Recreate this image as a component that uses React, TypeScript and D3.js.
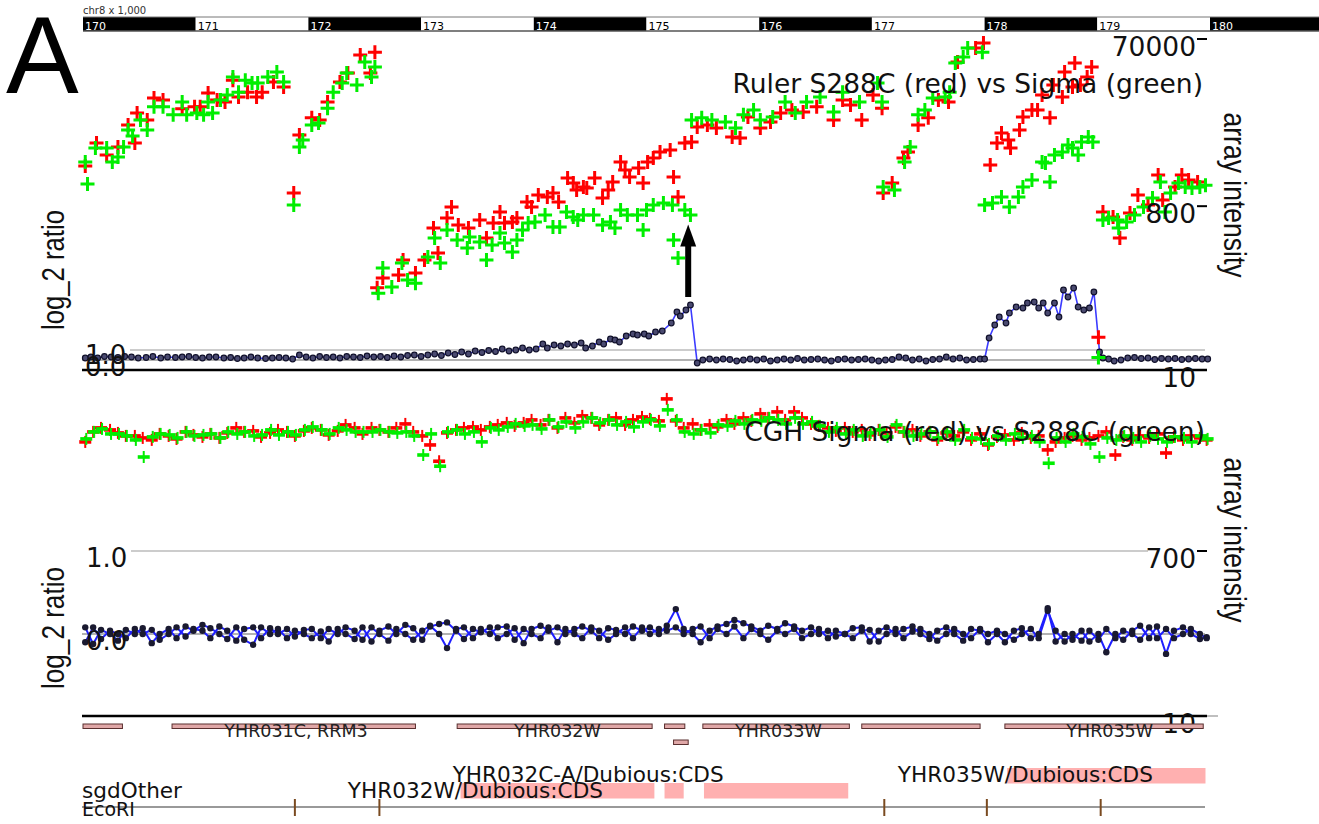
import React from "react";
import * as d3 from "d3";

const RULER_TICKS = [170, 171, 172, 173, 174, 175, 176, 177, 178, 179, 180];

const RULER_RED: [number, number][] = [
[170.02,2340],[170.12,4330],[170.21,3140],[170.31,3890],[170.40,7000],[170.46,4330],[170.48,9700],[170.57,8000],[170.63,14400],[170.71,13700],[170.88,10800],[170.99,11400],[171.04,11400],[171.11,16500],[171.19,13700],[171.26,13000],[171.33,23300],[171.38,14800],[171.46,16900],[171.54,14800],[171.59,16900],[171.69,22100],[171.78,19400],
[171.87,1140],[171.92,5360],[172.03,8500],[172.10,8000],[172.17,13000],[172.28,22100],[172.35,28100],[172.46,45600],[172.55,28100],[172.59,49000],
[172.61,90],[172.66,117],[172.80,127],[172.84,190],[172.95,134],[173.03,190],[173.11,446],[173.15,229],[173.23,582],[173.27,782],[173.33,483],[173.42,446],[173.52,552],[173.58,341],[173.64,510],[173.70,684],[173.74,510],[173.81,523],[173.85,582],[173.94,893],[173.98,782],[174.04,1080],[174.12,1020],[174.17,1140],[174.22,893],[174.30,1700],[174.35,1490],[174.38,1230],[174.44,1340],[174.47,1300],[174.54,1700],[174.61,995],[174.66,1230],[174.70,1530],[174.77,2610],[174.81,2100],[174.85,1750],[174.93,2220],[174.97,1490],[175.01,2610],[175.06,2900],[175.12,3400],[175.21,3590],[175.24,1750],[175.28,1020],[175.34,4330],[175.40,4450],
[175.45,6640],[175.54,7000],[175.62,6470],[175.76,5090],[175.83,4950],[175.90,8700],[176.01,6470],[176.10,7600],[176.19,9700],[176.29,10500],[176.39,9900],[176.51,11400],[176.66,8000],[176.74,13700],[176.81,12000],[176.91,8000],[177.01,15600],[177.09,11000],
[177.10,1140],[177.18,1490],[177.28,2900],[177.32,3400],[177.41,7000],[177.50,8500],[177.59,13700],[177.68,13000],[177.76,37800],[177.92,55000],[177.99,62800],
[178.05,2400],[178.11,4330],[178.15,5660],[178.21,4690],[178.23,3790],[178.31,6130],[178.34,8700],[178.42,10500],[178.47,10500],[178.51,15600],[178.58,8500],[178.61,20400],[178.69,14800],[178.71,28900],[178.78,19400],[178.80,36800],[178.85,20400],[178.91,25300],[178.95,33100],
[179.01,24],[179.05,684],[179.14,598],[179.20,341],[179.29,666],[179.36,1080],[179.45,825],[179.54,1840],[179.58,943],[179.69,1340],[179.75,1840],[179.81,1610],[179.89,1530]
];

const RULER_GREEN: [number, number][] = [
[170.02,2610],[170.04,1450],[170.11,3790],[170.21,3790],[170.26,2610],[170.31,2980],[170.36,3890],[170.40,6130],[170.44,5220],[170.51,8000],[170.57,6130],[170.63,11400],[170.71,11400],[170.80,9200],[170.88,13000],[170.92,9200],[171.01,9700],[171.07,9200],[171.11,13000],[171.15,9700],[171.22,13700],[171.28,15600],[171.33,25300],[171.38,16900],[171.44,23300],[171.50,21600],[171.55,21600],[171.64,25300],[171.72,28900],[171.78,22100],
[171.87,825],[171.92,3890],[171.95,4690],[172.03,7000],[172.09,7400],[172.17,11000],[172.22,16900],[172.30,21600],[172.34,28100],[172.43,20400],[172.50,37800],[172.56,25300],[172.59,33100],
[172.62,78],[172.66,153],[172.74,92],[172.83,175],[172.88,111],[172.95,102],[173.06,205],[173.12,341],[173.17,175],[173.23,423],[173.32,324],[173.41,261],[173.43,351],[173.52,307],[173.58,190],[173.63,283],[173.70,390],[173.74,299],[173.81,235],[173.85,324],[173.90,423],[173.95,510],[174.01,523],[174.10,631],[174.17,458],[174.23,458],[174.29,684],[174.35,598],[174.39,552],[174.44,631],[174.53,631],[174.61,483],[174.68,523],[174.72,446],[174.77,721],[174.83,631],[174.92,631],[174.97,423],[175.00,721],[175.06,825],[175.15,870],[175.23,825],[175.24,324],[175.28,200],[175.34,721],[175.39,631],
[175.40,8000],[175.49,8500],[175.58,8000],[175.70,7600],[175.79,6470],[175.86,9200],[175.95,10500],[176.01,8000],[176.12,8700],[176.23,13000],[176.32,9700],[176.42,13000],[176.54,14800],[176.66,9900],[176.74,16900],[176.89,13000],[177.05,21600],[177.09,13000],
[177.10,1340],[177.20,1230],[177.29,2610],[177.34,3890],[177.41,9200],[177.47,10500],[177.54,14400],[177.65,14800],[177.69,16900],[177.74,36800],[177.81,43200],[177.85,55000],[177.98,49000],
[178.00,825],[178.07,870],[178.15,1020],[178.22,782],[178.30,1020],[178.34,1340],[178.42,1610],[178.51,2610],[178.54,2540],[178.58,1530],[178.62,3140],[178.69,3400],[178.74,4100],[178.78,3790],[178.83,3140],[178.86,4450],[178.92,5090],[178.96,4450],
[179.01,14],[179.05,552],[179.10,582],[179.18,552],[179.19,446],[179.26,523],[179.33,631],[179.41,782],[179.49,995],[179.56,1530],[179.60,684],[179.65,1140],[179.72,1490],[179.78,1340],[179.84,1300],[179.91,1340],[179.96,1400]
];

const RULER_RATIO: [number, number][] = [
[170.02,0.2],[170.07,0.3],[170.13,0.2],[170.19,0.35],[170.25,0.3],[170.31,0.25],[170.37,0.35],[170.43,0.3],[170.49,0.2],[170.56,0.25],[170.62,0.35],[170.69,0.2],[170.75,0.3],[170.82,0.25],[170.88,0.3],[170.94,0.35],[171.00,0.25],[171.06,0.2],[171.12,0.3],[171.18,0.3],[171.25,0.2],[171.31,0.25],[171.37,0.15],[171.43,0.2],[171.49,0.3],[171.55,0.2],[171.62,0.15],[171.68,0.2],[171.74,0.25],[171.80,0.2],[171.86,0.1],[171.92,0.5],[171.98,0.3],[172.04,0.2],[172.10,0.35],[172.16,0.25],[172.22,0.3],[172.28,0.2],[172.34,0.35],[172.40,0.3],[172.46,0.25],[172.52,0.4],[172.58,0.3],[172.64,0.35],[172.70,0.25],[172.76,0.4],[172.82,0.3],[172.88,0.45],[172.94,0.5],[173.00,0.35],[173.06,0.5],[173.12,0.6],[173.18,0.45],[173.24,0.7],[173.30,0.55],[173.36,0.8],[173.42,0.6],[173.48,0.9],[173.54,0.75],[173.60,0.95],[173.66,0.85],[173.72,1.1],[173.78,0.9],[173.84,1.0],[173.90,1.2],[173.96,1.0],[174.02,1.1],[174.08,1.6],[174.12,1.2],[174.18,1.5],[174.24,1.4],[174.30,1.6],[174.36,1.5],[174.42,1.7],[174.46,1.2],[174.52,1.4],[174.58,1.8],[174.62,1.6],[174.68,2.1],[174.72,2.0],[174.76,1.8],[174.82,2.4],[174.88,2.6],[174.92,2.5],[174.98,2.6],[175.02,2.4],[175.08,2.8],[175.14,2.9],[175.22,3.7],[175.27,4.8],[175.30,4.4],[175.35,5.0],[175.39,5.5],
[175.45,-0.3],[175.50,0.0],[175.56,0.1],[175.62,0.0],[175.68,0.1],[175.74,0.05],[175.80,-0.1],[175.86,0.0],[175.92,0.1],[175.98,0.0],[176.04,0.1],[176.10,-0.1],[176.16,0.0],[176.22,0.1],[176.28,0.0],[176.34,0.15],[176.40,0.0],[176.46,0.05],[176.52,0.1],[176.58,0.0],[176.64,-0.1],[176.70,0.05],[176.76,0.1],[176.82,0.0],[176.88,0.05],[176.94,0.1],[177.00,0.0],[177.06,-0.1],[177.12,0.0],[177.18,0.05],[177.24,0.3],[177.30,0.2],[177.36,0.0],[177.42,0.1],[177.48,-0.1],[177.54,0.05],[177.60,0.1],[177.66,0.3],[177.72,0.1],[177.78,0.2],[177.84,0.0],[177.90,0.05],[177.96,0.1],[178.00,0.1],
[178.04,2.2],[178.09,3.5],[178.13,4.3],[178.19,3.7],[178.22,4.7],[178.28,5.3],[178.34,5.2],[178.38,5.7],[178.44,5.8],[178.48,5.2],[178.52,5.7],[178.56,4.7],[178.62,5.7],[178.66,4.3],[178.70,7.0],[178.74,6.3],[178.79,7.2],[178.83,5.3],[178.88,5.0],[178.93,5.2],[178.97,6.8],
[179.02,0.8],[179.05,0.2],[179.10,0.1],[179.15,-0.1],[179.21,0.0],[179.27,0.2],[179.33,0.25],[179.39,0.15],[179.45,0.2],[179.51,0.05],[179.57,0.15],[179.63,0.1],[179.69,0.15],[179.75,0.05],[179.81,0.1],[179.87,0.15],[179.93,0.1],[179.98,0.1]
];

const CGH_POS = [
170.02,170.09,170.16,170.24,170.31,170.38,170.46,170.53,170.61,170.68,
170.76,170.83,170.91,170.98,171.06,171.13,171.21,171.28,171.36,171.43,
171.51,171.58,171.66,171.73,171.81,171.88,171.96,172.03,172.11,172.18,
172.26,172.33,172.41,172.48,172.56,172.63,172.71,172.78,172.86,172.93,
173.01,173.08,173.16,173.23,173.31,173.38,173.46,173.53,173.61,173.68,
173.76,173.83,173.91,173.98,174.06,174.13,174.21,174.28,174.36,174.43,
174.51,174.58,174.66,174.73,174.81,174.88,174.96,175.03,175.11,175.18,
175.26,175.33,175.41,175.48,175.56,175.63,175.71,175.78,175.86,175.93,
176.01,176.08,176.16,176.23,176.31,176.38,176.46,176.53,176.61,176.68,
176.76,176.83,176.91,176.98,177.06,177.13,177.21,177.28,177.36,177.43,
177.51,177.58,177.66,177.73,177.81,177.88,177.96,178.03,178.11,178.18,
178.26,178.33,178.41,178.48,178.56,178.63,178.71,178.78,178.86,178.93,
179.01,179.08,179.16,179.23,179.31,179.38,179.46,179.53,179.61,179.68,
179.76,179.83,179.91,179.97
];

const CGH_RED = [
11610,15020,16660,15820,14640,13550,13550,12870,12230,14270,
13550,12540,15020,13910,13210,14270,12870,14640,16660,15020,
15420,13210,14640,15820,15020,13550,15420,16660,15820,13910,
15420,17990,16660,14270,16660,15820,15020,16660,18460,15020,
13550,10740,7060,14640,15820,16660,17090,15820,17090,17990,
18950,17540,18950,20470,17990,20470,16660,21550,18950,22700,
21550,17990,20470,21550,17990,20470,22100,21000,19950,35150,
19950,16660,18460,15820,17990,17090,20470,18460,21550,19950,
23900,21550,25150,20470,25150,21550,18460,17540,16660,15420,
16660,15020,15820,13910,15820,14640,17090,15020,15820,13550,
15020,12230,14640,13550,15020,12230,14270,10740,13210,13910,
12230,14640,12870,13550,9450,11610,12870,13550,12230,12870,
13550,15020,8290,13210,12230,13550,12870,14270,8730,13210,
12230,13550,12870,12230
];

const CGH_GREEN = [
13210,15820,17090,15020,15020,14270,12870,8290,13910,15020,
14640,13550,15820,14270,14640,15020,13550,15820,15020,15820,
14270,14640,16660,14640,15820,14640,16660,17990,16660,15020,
17540,16660,15820,15820,15820,16660,15820,15420,15820,14270,
8730,15020,6540,15820,16660,15020,15820,12230,17540,16660,
17990,19440,18460,18950,17090,21550,17990,20470,17540,20470,
22700,19950,21550,18950,20470,17990,20470,21550,18460,27900,
21550,15820,15020,16660,15420,18950,18460,21000,19440,21550,
21000,22700,21550,19440,22700,19440,20470,18460,15820,17540,
15020,16660,14270,15420,16660,13910,18950,15820,14270,15020,
15820,13550,15820,12870,16660,13550,13210,11610,14270,12870,
15020,13550,14270,12230,7060,13550,12230,15020,13910,11610,
8290,13550,12870,14270,13550,12230,14270,13210,12230,13910,
13550,12230,14270,13210
];

const CGH_RATIO_A = [
0.08,-0.12,0.05,0.0,-0.08,0.05,0.0,0.07,-0.11,0.0,
0.06,-0.05,0.09,0.04,0.11,0.07,0.0,-0.06,0.08,-0.07,
-0.13,0.08,0.0,0.06,-0.05,0.04,0.0,-0.05,0.03,-0.09,
0.06,0.0,-0.06,0.08,-0.09,0.04,0.09,0.0,0.11,0.07,
-0.07,0.09,0.12,0.14,0.04,-0.06,0.06,0.02,0.08,-0.05,
0.0,0.07,-0.11,0.06,0.1,0.04,0.08,0.0,0.06,0.09,
0.04,-0.05,0.07,0.05,0.0,0.09,0.04,0.08,0.0,0.1,
0.30,0.06,0.0,-0.10,0.04,0.09,0.12,0.17,0.13,0.09,
0.04,0.1,0.06,0.13,0.09,0.04,0.08,0.0,0.04,-0.03,
0.0,0.07,0.08,-0.09,0.04,0.08,0.0,0.06,0.09,0.0,
-0.06,0.04,0.08,0.0,-0.08,0.06,0.04,-0.1,0.0,-0.10,
0.04,0.07,-0.05,0.0,0.31,-0.09,0.0,-0.07,0.04,-0.09,
0.0,-0.22,0.0,-0.07,0.04,0.1,-0.05,0.09,-0.24,0.04,
0.08,0.0,-0.06,-0.04
];

const CGH_RATIO_B = [
-0.10,0.08,-0.06,0.04,0.0,-0.05,0.06,0.0,0.05,-0.07,
0.0,0.08,-0.03,0.06,0.04,-0.05,0.09,0.04,-0.08,0.06,
0.08,-0.05,0.07,0.0,0.06,-0.03,0.05,0.06,-0.05,0.06,
0.0,0.08,0.04,-0.07,0.08,0.0,-0.08,0.06,0.0,-0.07,
0.04,0.10,0.0,-0.17,0.06,0.08,-0.05,0.06,0.0,0.08,
0.09,-0.07,0.06,0.0,-0.05,0.08,-0.1,0.06,0.0,-0.05,
0.08,0.04,-0.07,0.0,0.08,-0.05,0.08,0.0,0.06,0.04,
0.08,0.0,0.06,0.09,-0.05,0.06,0.0,0.09,-0.05,0.06,
0.0,-0.07,0.04,0.0,0.06,-0.05,0.0,0.06,-0.05,0.04,
0.0,-0.05,0.04,0.05,-0.09,0.0,0.06,-0.05,0.03,0.06,
0.0,-0.08,0.0,0.06,0.0,-0.05,0.06,0.0,0.04,0.0,
-0.07,0.0,0.06,-0.05,0.28,0.04,-0.09,0.0,-0.08,0.04,
-0.07,0.06,-0.05,0.04,0.0,-0.07,0.08,-0.05,0.06,-0.05,
0.0,0.06,0.0,-0.05
];

const GENE_STARTS = [170.0, 170.79, 173.32, 175.16, 175.24, 175.50, 176.91, 178.18];
const GENE_ENDS = [170.35, 172.95, 175.05, 175.34, 175.37, 176.80, 177.96, 179.94];
const GENE_ROWS = [0, 0, 0, 0, 1, 0, 0, 0];
const GENE_LABELS = ["YHR031C, RRM3", "YHR032W", "YHR033W", "YHR035W"];
const GENE_LABEL_POS = [171.89, 174.21, 176.17, 179.11];

const SGD_STARTS = [173.35, 175.16, 175.51, 178.20];
const SGD_ENDS = [175.07, 175.33, 176.79, 179.96];
const SGD_ROWS = [1, 1, 1, 0];
const SGD_LABELS = ["YHR032W/Dubious:CDS", "YHR032C-A/Dubious:CDS", "YHR035W/Dubious:CDS"];
const SGD_LABEL_POS = [172.35, 173.28, 177.23];
const SGD_LABEL_ROWS = [1, 0, 0];

const ECORI_SITES = [171.88, 172.63, 177.11, 178.02, 179.03];

const ARROW_KB = 175.37;
const ARROW_FROM_RATIO = 5.9;
const ARROW_TO_INTENSITY = 490;

const FONT = "'DejaVu Sans', sans-serif";
const NARROW = "'Liberation Sans Narrow', 'Liberation Sans', sans-serif";

export default function App() {
  const W = 1319, H = 824;
  const x = d3.scaleLinear().domain([170, 180]).range([83, 1210]);
  const y1 = d3.scaleLog().domain([10, 70000]).range([370, 39]);
  const r1 = d3.scaleLinear().domain([0, 1]).range([360, 350]);
  const y2 = d3.scaleLog().domain([10, 700]).range([716, 551]);
  const r2 = d3.scaleLinear().domain([0, 1]).range([634, 551]);

  const plus = (cx: number, cy: number) => `M${cx - 7},${cy}H${cx + 7}M${cx},${cy - 7}V${cy + 7}`;

  const line1 = d3.line<[number, number]>().x(d => x(d[0])).y(d => r1(d[1]));
  const n = Math.min(CGH_POS.length, CGH_RATIO_A.length, CGH_RATIO_B.length);
  const aPts: [number, number][] = d3.range(n).map(i => [CGH_POS[i], CGH_RATIO_A[i]]);
  const bPts: [number, number][] = d3.range(n).map(i => [CGH_POS[i], CGH_RATIO_B[i]]);
  const line2 = d3.line<[number, number]>().x(d => x(d[0])).y(d => r2(d[1]));
  const nc = Math.min(CGH_POS.length, CGH_RED.length, CGH_GREEN.length);

  const cghMark = (cx: number, cy: number, color: string, key: string) => (
    <g key={key} fill={color}>
      <rect x={cx - 6} y={cy - 1.8} width={12} height={3.6} />
      <rect x={cx - 1} y={cy - 6} width={2} height={12} />
    </g>
  );

  const ax = x(ARROW_KB);
  const aFrom = r1(ARROW_FROM_RATIO) - 4;
  const aTo = y1(ARROW_TO_INTENSITY);

  return (
    <svg width={W} height={H} style={{ position: "absolute", left: 0, top: 0, background: "#fff" }} fontFamily={FONT}>
      <rect x={0} y={0} width={W} height={H} fill="#fff" />
      <text x={6} y={93} fontFamily="'Liberation Sans', Arial, sans-serif" fontSize={109} fill="#000">A</text>

      {/* Ruler */}
      <text x={83} y={14} fontSize={10} fill="#333">chr8 x 1,000</text>
      {RULER_TICKS.map((k, i) => {
        const x0 = x(k);
        const x1 = i === RULER_TICKS.length - 1 ? W : x(k + 1);
        const dark = i % 2 === 0;
        return (
          <g key={"rt" + k}>
            <rect x={x0} y={17} width={x1 - x0} height={14} fill={dark ? "#000" : "#fff"} />
            <text x={x0 + 2} y={29.5} fontSize={11} fill={dark ? "#fff" : "#000"}>{k}</text>
          </g>
        );
      })}
      <line x1={83} x2={W} y1={17} y2={17} stroke="#777" strokeWidth={1} />
      <line x1={83} x2={W} y1={31} y2={31} stroke="#555" strokeWidth={1.5} />

      {/* Panel 1 reference lines */}
      <line x1={130} x2={1205} y1={r1(1)} y2={r1(1)} stroke="#bbb" strokeWidth={1.5} />
      <line x1={82} x2={1207} y1={r1(0)} y2={r1(0)} stroke="#666" strokeWidth={1.2} />
      <line x1={82} x2={1207} y1={370} y2={370} stroke="#000" strokeWidth={2.5} />

      {/* Panel 1 ratio */}
      <path d={line1(RULER_RATIO) || ""} fill="none" stroke="#3b3bff" strokeWidth={1.6} />
      {RULER_RATIO.map((d, i) => (
        <circle key={"rr" + i} cx={x(d[0])} cy={r1(d[1])} r={2.8} fill="#4a4a70" stroke="#10102a" strokeWidth={1.2} />
      ))}

      {/* Panel 1 intensities */}
      <g stroke="#ff0000" strokeWidth={3}>
        {RULER_RED.map((d, i) => <path key={"r" + i} d={plus(x(d[0]), y1(d[1]))} />)}
      </g>
      <g stroke="#00ee00" strokeWidth={3}>
        {RULER_GREEN.map((d, i) => <path key={"g" + i} d={plus(x(d[0]), y1(d[1]))} />)}
      </g>

      {/* Arrow */}
      <line x1={ax} x2={ax} y1={aFrom} y2={aTo + 20} stroke="#000" strokeWidth={6} />
      <path d={`M${ax - 8},${aTo + 22}L${ax},${aTo}L${ax + 8},${aTo + 22}Z`} fill="#000" />

      {/* Panel 1 axis labels */}
      <text x={1203} y={93} textAnchor="end" fontSize={26.5} fill="#111">Ruler S288C (red) vs Sigma (green)</text>
      {[70000, 800, 10].map(v => (
        <g key={"a1" + v}>
          <line x1={1197} x2={1207} y1={y1(v)} y2={y1(v)} stroke="#000" strokeWidth={2} />
          <text x={1196} y={y1(v) + 17} textAnchor="end" fontSize={26.5} fill="#111">{v}</text>
        </g>
      ))}
      <text x={85} y={364} fontSize={26} fill="#111">1.0</text>
      <text x={85} y={376} fontSize={26} fill="#111">0.0</text>
      <text transform="translate(64,270) rotate(-90)" textAnchor="middle" fontFamily={NARROW} fontSize={31} textLength={120} lengthAdjust="spacingAndGlyphs" fill="#111">log_2 ratio</text>
      <text transform="translate(1224,195) rotate(90)" textAnchor="middle" fontFamily={NARROW} fontSize={31} textLength={165} lengthAdjust="spacingAndGlyphs" fill="#111">array intensity</text>

      {/* Panel 2 reference lines */}
      <line x1={131} x2={1148} y1={r2(1)} y2={r2(1)} stroke="#bbb" strokeWidth={1.5} />
      <line x1={82} x2={1205} y1={r2(0)} y2={r2(0)} stroke="#666" strokeWidth={1.2} />
      <line x1={1207} x2={1218} y1={716} y2={716} stroke="#aaa" strokeWidth={1.5} />
      <line x1={82} x2={1207} y1={716} y2={716} stroke="#000" strokeWidth={2.5} />

      {/* Panel 2 intensities */}
      <g>{d3.range(nc).map(i => cghMark(x(CGH_POS[i]), y2(CGH_RED[i]), "#ff0000", "cr" + i))}</g>
      <g>{d3.range(nc).map(i => cghMark(x(CGH_POS[i]) + 1, y2(CGH_GREEN[i]) + 2, "#00ee00", "cg" + i))}</g>

      {/* Panel 2 ratios */}
      <path d={line2(aPts) || ""} fill="none" stroke="#1f1fff" strokeWidth={2} />
      <path d={line2(bPts) || ""} fill="none" stroke="#1f1fff" strokeWidth={2} />
      {aPts.map((d, i) => <circle key={"ca" + i} cx={x(d[0])} cy={r2(d[1])} r={3.2} fill="#1a1a30" />)}
      {bPts.map((d, i) => <circle key={"cb" + i} cx={x(d[0])} cy={r2(d[1])} r={3.2} fill="#1a1a30" />)}

      {/* Panel 2 labels */}
      <text x={1205} y={441} textAnchor="end" fontSize={26.5} fill="#111">CGH Sigma (red) vs S288C (green)</text>
      {[700, 10].map(v => (
        <g key={"a2" + v}>
          <line x1={1197} x2={1207} y1={y2(v)} y2={y2(v)} stroke="#000" strokeWidth={2} />
          <text x={1196} y={y2(v) + 17} textAnchor="end" fontSize={26.5} fill="#111">{v}</text>
        </g>
      ))}
      <text x={86} y={567} fontSize={26} fill="#111">1.0</text>
      <text x={86} y={650} fontSize={26} fill="#111">0.0</text>
      <text transform="translate(64,628) rotate(-90)" textAnchor="middle" fontFamily={NARROW} fontSize={31} textLength={122} lengthAdjust="spacingAndGlyphs" fill="#111">log_2 ratio</text>
      <text transform="translate(1224,540) rotate(90)" textAnchor="middle" fontFamily={NARROW} fontSize={31} textLength={165} lengthAdjust="spacingAndGlyphs" fill="#111">array intensity</text>

      {/* Genes */}
      {GENE_STARTS.map((s, i) => {
        const yy = GENE_ROWS[i] === 0 ? 724 : 740;
        return (
          <rect key={"gn" + i} x={x(s)} y={yy} width={x(GENE_ENDS[i]) - x(s)} height={4.5} fill="#e0a8a8" stroke="#5a3030" strokeWidth={1} />
        );
      })}
      {GENE_LABELS.map((t, i) => (
        <text key={"gl" + i} x={x(GENE_LABEL_POS[i])} y={737} textAnchor="middle" fontSize={17.5} fill="#222">{t}</text>
      ))}

      {/* sgdOther */}
      {SGD_STARTS.map((s, i) => {
        const yy = SGD_ROWS[i] === 0 ? 768 : 783;
        return <rect key={"sg" + i} x={x(s)} y={yy} width={x(SGD_ENDS[i]) - x(s)} height={15.5} fill="#ffb0b0" />;
      })}
      {SGD_LABELS.map((t, i) => (
        <text key={"sl" + i} x={x(SGD_LABEL_POS[i])} y={SGD_LABEL_ROWS[i] === 0 ? 782 : 798} fontSize={21.6} fill="#111">{t}</text>
      ))}
      <text x={82} y={798} fontSize={21.6} fill="#111">sgdOther</text>

      {/* EcoRI */}
      <line x1={82} x2={1205} y1={807} y2={807} stroke="#777" strokeWidth={1.5} />
      {ECORI_SITES.map((k, i) => (
        <line key={"ec" + i} x1={x(k)} x2={x(k)} y1={799} y2={816} stroke="#7a4a20" strokeWidth={2} />
      ))}
      <text x={82} y={816} fontSize={19} fill="#111">EcoRI</text>
    </svg>
  );
}
